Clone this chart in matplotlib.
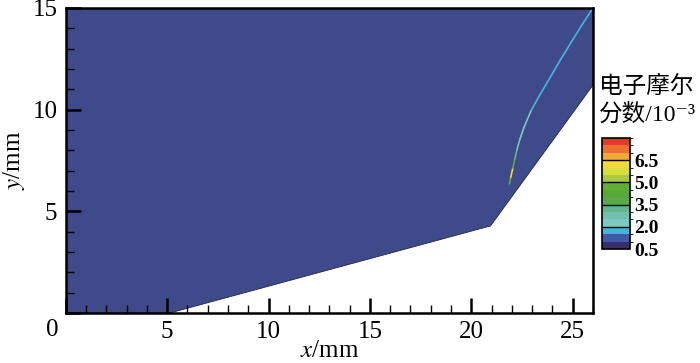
import matplotlib
matplotlib.use('Agg')
import matplotlib.pyplot as plt
from matplotlib.colors import ListedColormap, BoundaryNorm
from matplotlib.collections import LineCollection
from matplotlib.patches import Polygon
from matplotlib.ticker import MultipleLocator
import numpy as np

plt.rcParams['font.family'] = ['Liberation Serif', 'Noto Sans CJK SC', 'DejaVu Serif']
plt.rcParams['mathtext.fontset'] = 'stix'

# flow domain outline (mm)
domain_x = [0, 5.15, 20.95, 26, 26, 0]
domain_y = [0, 0, 4.28, 11.2, 15, 15]

# shock line where electrons appear (mm) and electron mole fraction (1e-3)
shock_x = [21.88, 21.95, 22.05, 22.15, 22.25, 22.4, 22.6, 22.95, 23.4, 23.9, 24.4, 24.9, 25.45, 26.0]
shock_y = [6.35, 6.68, 7.12, 7.58, 8.02, 8.55, 9.12, 9.95, 10.75, 11.6, 12.45, 13.27, 14.15, 15.0]
shock_v = [3.0, 6.8, 5.2, 3.6, 2.8, 2.3, 2.1, 1.9, 1.8, 1.8, 1.7, 1.7, 1.6, 1.6]

levels = np.arange(0.5, 8.01, 0.5)
band_colors = ['#3b2d6c', '#4359a6', '#4ab2de', '#7cc8c2', '#72bfb0', '#66b48e',
               '#5aa94e', '#58a83a', '#62ad34', '#a8cc3c', '#d8de3e', '#f2d83c',
               '#f2a834', '#ec7030', '#e23a28']
bg_color = '#3f4a8a'

cmap = ListedColormap(band_colors)
norm = BoundaryNorm(levels, cmap.N)

fig = plt.figure(figsize=(7, 3.63), dpi=100)
ax = fig.add_axes([0.094, 0.138, 0.753, 0.840])

ax.add_patch(Polygon(np.column_stack([domain_x, domain_y]), closed=True,
                     facecolor=bg_color, edgecolor='#222244', linewidth=0.6))

pts = np.column_stack([shock_x, shock_y]).reshape(-1, 1, 2)
segs = np.concatenate([pts[:-1], pts[1:]], axis=1)
vals = (np.array(shock_v[:-1]) + np.array(shock_v[1:])) / 2
lc = LineCollection(segs, cmap=cmap, norm=norm, linewidth=1.2, capstyle='round')
lc.set_array(vals)
ax.add_collection(lc)

ax.set_xlim(0, 26)
ax.set_ylim(0, 15)
ax.xaxis.set_major_locator(MultipleLocator(5))
ax.yaxis.set_major_locator(MultipleLocator(5))
ax.xaxis.set_minor_locator(MultipleLocator(1))
ax.yaxis.set_minor_locator(MultipleLocator(1))
ax.tick_params(which='major', direction='in', length=11, width=1.8, labelsize=18, pad=6)
ax.tick_params(which='minor', direction='in', length=6, width=1.0)
ax.set_xticks([0, 5, 10, 15, 20, 25])
ax.set_xticklabels(['', '5', '10', '15', '20', '25'])
ax.set_yticks([0, 5, 10, 15])
ax.set_yticklabels(['', '5', '10', '15'])
for s in ax.spines.values():
    s.set_linewidth(1.8)
ax.text(-0.65, -0.85, '0', fontsize=18, ha='center', va='center')

ax.set_xlabel('$x$/mm', fontsize=18, labelpad=-2)
ax.set_ylabel('$y$/mm', fontsize=18, labelpad=4)

# colorbar
cax = fig.add_axes([0.860, 0.314, 0.040, 0.306])
cb = fig.colorbar(plt.cm.ScalarMappable(norm=norm, cmap=cmap), cax=cax,
                  boundaries=levels, spacing='proportional')
cb.set_ticks([0.5, 2.0, 3.5, 5.0, 6.5])
cb.set_ticklabels(['0.5', '2.0', '3.5', '5.0', '6.5'])
cb.ax.tick_params(length=0, labelsize=14, pad=3)
for t in cb.ax.get_yticklabels():
    t.set_fontweight('bold')
for v in [2.0, 3.5, 5.0, 6.5]:
    cb.ax.axhline(v, color='black', linewidth=1.0)
cb.outline.set_linewidth(1.2)

fig.text(0.856, 0.722, '电子摩尔\n分数/10⁻³', fontsize=17, ha='left', va='center',
         linespacing=1.3)

fig.savefig('out.png', dpi=100)
